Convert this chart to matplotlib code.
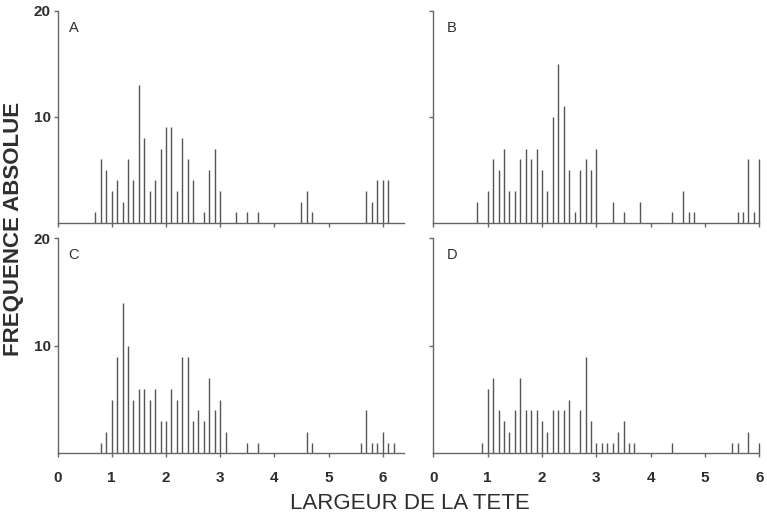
import numpy as np
import matplotlib
matplotlib.use('Agg')
import matplotlib.pyplot as plt

plt.rcParams['font.family'] = ['Liberation Sans', 'DejaVu Sans']

# largeur de la tete (classes de 0.1) et frequence absolue, panneau A
xa = [0.7, 0.8, 0.9, 1.0, 1.1, 1.2, 1.3, 1.4, 1.5, 1.6, 1.7, 1.8, 1.9, 2.0, 2.1,
      2.2, 2.3, 2.4, 2.5, 2.7, 2.8, 2.9, 3.0, 3.3, 3.5, 3.7, 4.5, 4.6, 4.7,
      5.7, 5.8, 5.9, 6.0, 6.1]
ya = [1, 6, 5, 3, 4, 2, 6, 4, 13, 8, 3, 4, 7, 9, 9,
      3, 8, 6, 4, 1, 5, 7, 3, 1, 1, 1, 2, 3, 1,
      3, 2, 4, 4, 4]

# panneau B
xb = [0.8, 1.0, 1.1, 1.2, 1.3, 1.4, 1.5, 1.6, 1.7, 1.8, 1.9, 2.0, 2.1, 2.2,
      2.3, 2.4, 2.5, 2.6, 2.7, 2.8, 2.9, 3.0, 3.3, 3.5, 3.8, 4.4, 4.6, 4.7,
      4.8, 5.6, 5.7, 5.8, 5.9, 6.0]
yb = [2, 3, 6, 5, 7, 3, 3, 6, 7, 6, 7, 5, 3, 10,
      15, 11, 5, 1, 5, 6, 5, 7, 2, 1, 2, 1, 3, 1,
      1, 1, 1, 6, 1, 6]

# panneau C
xc = [0.8, 0.9, 1.0, 1.1, 1.2, 1.3, 1.4, 1.5, 1.6, 1.7, 1.8, 1.9, 2.0, 2.1,
      2.2, 2.3, 2.4, 2.5, 2.6, 2.7, 2.8, 2.9, 3.0, 3.1, 3.5, 3.7, 4.6, 4.7,
      5.6, 5.7, 5.8, 5.9, 6.0, 6.1, 6.2]
yc = [1, 2, 5, 9, 14, 10, 5, 6, 6, 5, 6, 3, 3, 6,
      5, 9, 9, 3, 4, 3, 7, 4, 5, 2, 1, 1, 2, 1,
      1, 4, 1, 1, 2, 1, 1]

# panneau D
xd = [0.9, 1.0, 1.1, 1.2, 1.3, 1.4, 1.5, 1.6, 1.7, 1.8, 1.9, 2.0, 2.1, 2.2,
      2.3, 2.4, 2.5, 2.7, 2.8, 2.9, 3.0, 3.1, 3.2, 3.3, 3.4, 3.5, 3.6, 3.7,
      4.4, 5.5, 5.6, 5.8, 6.0]
yd = [1, 6, 7, 4, 3, 2, 4, 7, 4, 4, 4, 3, 2, 4,
      4, 4, 5, 4, 9, 3, 1, 1, 1, 1, 2, 3, 1, 1,
      1, 1, 1, 2, 1]

bar_col = '#555555'
ax_col = '#666666'
txt_col = '#2e2e2e'

fig = plt.figure(figsize=(7.67, 5.14), dpi=100)

# [gauche, bas, largeur, hauteur] en fraction de la figure
pos = {
    'A': [0.0750, 0.5667, 0.4523, 0.4119],
    'B': [0.5651, 0.5667, 0.4249, 0.4119],
    'C': [0.0750, 0.1181, 0.4523, 0.4179],
    'D': [0.5651, 0.1181, 0.4249, 0.4179],
}
data = {'A': (xa, ya), 'B': (xb, yb), 'C': (xc, yc), 'D': (xd, yd)}

for key in ['A', 'B', 'C', 'D']:
    ax = fig.add_axes(pos[key])
    x, y = data[key]
    ax.vlines(x, 0, y, colors=bar_col, linewidth=1.0, clip_on=False)
    left = key in ('A', 'C')
    bottom = key in ('C', 'D')
    ax.set_xlim(0, 6.4 if left else 6.0)
    ax.set_ylim(0, 20)
    for s in ['top', 'right']:
        ax.spines[s].set_visible(False)
    for s in ['left', 'bottom']:
        ax.spines[s].set_color(ax_col)
        ax.spines[s].set_linewidth(1.0)
    ax.set_yticks([10, 20])
    if left:
        ax.set_yticklabels(['10', '20'], fontsize=11, fontweight='bold', color=txt_col)
    else:
        ax.set_yticklabels([])
    ax.set_xticks([0, 1, 2, 3, 4, 5, 6])
    if bottom:
        ax.set_xticklabels(['0', '1', '2', '3', '4', '5', '6'], fontsize=11,
                           fontweight='bold', color=txt_col)
    else:
        ax.set_xticklabels([])
    ax.tick_params(direction='out', length=3, width=1.0, color=ax_col, pad=2)
    ax.tick_params(axis='x', pad=9.5)
    ax.text(0.032 if left else 0.04, 0.955, key, transform=ax.transAxes,
            fontsize=10.5, va='top', ha='left', color=txt_col)

fig.text(0.535, 0.021, 'LARGEUR DE LA TETE', ha='center', va='center',
         fontsize=16, color=txt_col)
fig.text(0.018, 0.5555, 'FREQUENCE ABSOLUE', ha='center', va='center',
         rotation=90, fontsize=16, fontweight='bold', color=txt_col)

fig.savefig('out.png', dpi=100)
